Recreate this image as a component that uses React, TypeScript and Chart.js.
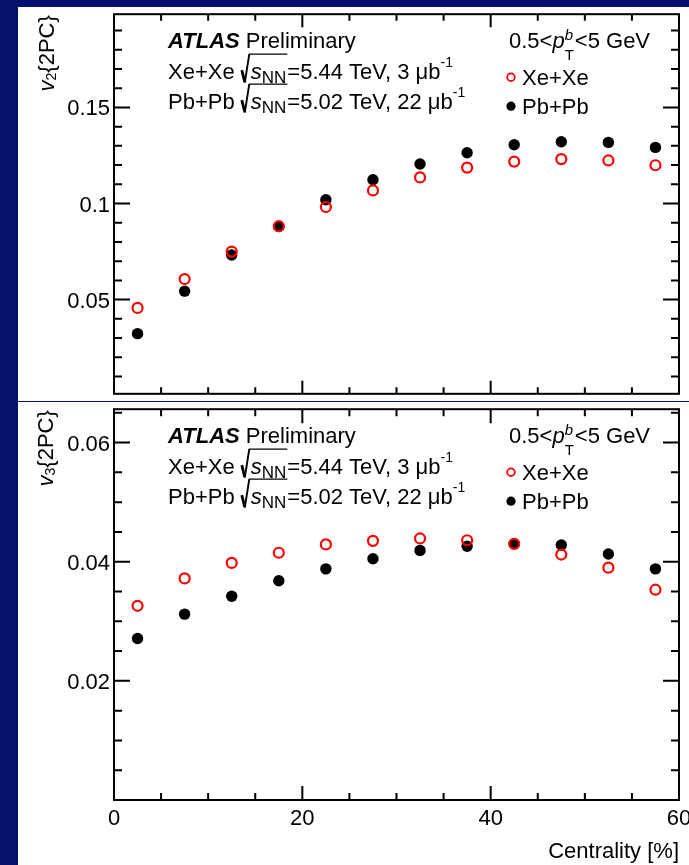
import React, { useEffect, useRef } from "react";
import { Chart, registerables } from "chart.js";
Chart.register(...registerables);

// ---------------- data ----------------
const centrality = [2.5, 7.5, 12.5, 17.5, 22.5, 27.5, 32.5, 37.5, 42.5, 47.5, 52.5, 57.5];
const v2XeXe = [0.0457, 0.0607, 0.0750, 0.0882, 0.0982, 0.1068, 0.1136, 0.1187, 0.1218, 0.1231, 0.1224, 0.1199];
const v2PbPb = [0.0323, 0.0544, 0.0732, 0.0880, 0.1020, 0.1124, 0.1206, 0.1264, 0.1306, 0.1321, 0.1318, 0.1292];
const v3XeXe = [0.0326, 0.0372, 0.0398, 0.0415, 0.0429, 0.0435, 0.0439, 0.0436, 0.0430, 0.0412, 0.0390, 0.0353];
const v3PbPb = [0.0271, 0.0312, 0.0342, 0.0368, 0.0388, 0.0405, 0.0419, 0.0426, 0.0430, 0.0428, 0.0413, 0.0388];
const xTickLabels = [0, 20, 40, 60];
const v2TickLabels = [0.05, 0.1, 0.15];
const v3TickLabels = [0.02, 0.04, 0.06];
const seriesNames = ["Xe+Xe", "Pb+Pb"];

// ---------------- style ----------------
const FONT = '"Liberation Sans", Arial, Helvetica, sans-serif';
const NAVY = "#03116c";
const RED = "#ff0000";

type Seg =
  | { k: "t"; t: string; size: number; style?: string; dy?: number }
  | { k: "sqrt"; inner: Seg[] }
  | { k: "ss"; sup: string; sub: string; size: number; supDy: number; subDy: number };

const fnt = (size: number, style = "") => `${style} ${size}px ${FONT}`.trim();

function segWidth(ctx: CanvasRenderingContext2D, s: Seg): number {
  if (s.k === "t") {
    ctx.font = fnt(s.size, s.style);
    return ctx.measureText(s.t).width;
  }
  if (s.k === "sqrt") return 10 + richWidth(ctx, s.inner) + 1;
  ctx.font = fnt(s.size, "italic");
  const a = ctx.measureText(s.sup).width;
  ctx.font = fnt(s.size);
  const b = ctx.measureText(s.sub).width;
  return Math.max(a, b) + 1;
}
function richWidth(ctx: CanvasRenderingContext2D, segs: Seg[]) {
  return segs.reduce((w, s) => w + segWidth(ctx, s), 0);
}
function drawRich(ctx: CanvasRenderingContext2D, x: number, base: number, segs: Seg[]) {
  let cx = x;
  ctx.fillStyle = "#000";
  ctx.strokeStyle = "#000";
  ctx.textBaseline = "alphabetic";
  ctx.textAlign = "left";
  for (const s of segs) {
    if (s.k === "t") {
      ctx.font = fnt(s.size, s.style);
      ctx.fillText(s.t, cx, base + (s.dy || 0));
      cx += ctx.measureText(s.t).width;
    } else if (s.k === "sqrt") {
      const iw = richWidth(ctx, s.inner);
      const top = base - 25;
      ctx.beginPath();
      ctx.lineWidth = 2.8;
      ctx.moveTo(cx + 1, base - 9);
      ctx.lineTo(cx + 4, base + 3);
      ctx.stroke();
      ctx.beginPath();
      ctx.lineWidth = 1.9;
      ctx.moveTo(cx + 4, base + 3.5);
      ctx.lineTo(cx + 8.5, top);
      ctx.stroke();
      ctx.beginPath();
      ctx.lineWidth = 1.3;
      ctx.moveTo(cx + 8, top);
      ctx.lineTo(cx + 10 + iw + 1, top);
      ctx.stroke();
      drawRich(ctx, cx + 10, base, s.inner);
      cx += 10 + iw + 1;
    } else {
      ctx.font = fnt(s.size, "italic");
      ctx.fillText(s.sup, cx, base + s.supDy);
      const a = ctx.measureText(s.sup).width;
      ctx.font = fnt(s.size);
      ctx.fillText(s.sub, cx, base + s.subDy);
      const b = ctx.measureText(s.sub).width;
      cx += Math.max(a, b) + 1;
    }
  }
  return cx;
}

const energyLine = (sys: string, e: string, lumi: string): Seg[] => [
  { k: "t", t: sys + " ", size: 22 },
  { k: "sqrt", inner: [{ k: "t", t: "s", size: 22, style: "italic" }, { k: "t", t: "NN", size: 17, dy: 4 }] },
  { k: "t", t: `=${e} TeV, ${lumi} \u03bcb`, size: 22 },
  { k: "t", t: "-1", size: 14, dy: -12 },
];

const ptLine: Seg[] = [
  { k: "t", t: "0.5<", size: 22 },
  { k: "t", t: "p", size: 22, style: "italic" },
  { k: "ss", sup: "b", sub: "T", size: 15, supDy: -8.5, subDy: 12 },
  { k: "t", t: "<5 GeV", size: 22 },
];

interface PanelCfg {
  yTicks: number[];
  yMinor: number;
  yTitleSub: string;
  yTitleBase: number;
  showXLabels: boolean;
  xMajorLen: number;
  xMinorLen: number;
}

function makePlugin(cfg: PanelCfg) {
  return {
    id: "rootStyle",
    afterDraw(chart: any) {
      const ctx: CanvasRenderingContext2D = chart.ctx;
      const xs = chart.scales.x;
      const ys = chart.scales.y;
      const { left, right, top, bottom } = chart.chartArea;
      ctx.save();
      ctx.strokeStyle = "#000";
      ctx.lineWidth = 2;
      ctx.lineCap = "butt";
      // frame
      ctx.strokeRect(left, top, right - left, bottom - top);
      // x ticks (bottom and top, inward)
      ctx.beginPath();
      for (let v = xs.min; v <= xs.max + 1e-9; v += 5) {
        const px = xs.getPixelForValue(v);
        const major = xTickLabels.includes(Math.round(v));
        const len = major ? cfg.xMajorLen : cfg.xMinorLen;
        ctx.moveTo(px, bottom);
        ctx.lineTo(px, bottom - len);
        ctx.moveTo(px, top);
        ctx.lineTo(px, top + len);
      }
      // y ticks (left and right, inward)
      const n = Math.round((ys.max - 0) / cfg.yMinor);
      for (let i = 1; i <= n; i++) {
        const v = i * cfg.yMinor;
        if (v < ys.min || v > ys.max) continue;
        const py = ys.getPixelForValue(v);
        const major = cfg.yTicks.some((t) => Math.abs(t - v) < 1e-9);
        const len = major ? 16 : 8;
        ctx.moveTo(left, py);
        ctx.lineTo(left + len, py);
        ctx.moveTo(right, py);
        ctx.lineTo(right - len, py);
      }
      ctx.stroke();
      // y tick labels
      ctx.fillStyle = "#000";
      ctx.font = fnt(22);
      ctx.textAlign = "right";
      ctx.textBaseline = "alphabetic";
      for (const t of cfg.yTicks) {
        ctx.fillText(String(t), left - 4, ys.getPixelForValue(t) + 8);
      }
      // x tick labels
      if (cfg.showXLabels) {
        ctx.textAlign = "center";
        for (const t of xTickLabels) {
          ctx.fillText(String(t), xs.getPixelForValue(t), bottom + 25);
        }
        ctx.textAlign = "right";
        ctx.fillText("Centrality [%]", right, bottom + 58);
      }
      // y title (rotated)
      const title: Seg[] = [
        { k: "t", t: "v", size: 22, style: "italic" },
        { k: "t", t: cfg.yTitleSub, size: 14, dy: 2 },
        { k: "t", t: "{2PC}", size: 22 },
      ];
      const tw = richWidth(ctx, title);
      ctx.save();
      ctx.translate(cfg.yTitleBase, top + 1);
      ctx.rotate(-Math.PI / 2);
      drawRich(ctx, -tw, 0, title);
      ctx.restore();
      // ATLAS label block
      const tx = left + 54;
      drawRich(ctx, tx, top + 34, [
        { k: "t", t: "ATLAS", size: 22, style: "italic bold" },
        { k: "t", t: " Preliminary", size: 22 },
      ]);
      drawRich(ctx, tx, top + 65, energyLine("Xe+Xe", "5.44", "3"));
      drawRich(ctx, tx, top + 95, energyLine("Pb+Pb", "5.02", "22"));
      // legend block
      const lx = left + 395;
      drawRich(ctx, lx, top + 34, ptLine);
      const my1 = top + 63;
      const my2 = top + 92;
      ctx.beginPath();
      ctx.strokeStyle = RED;
      ctx.lineWidth = 1.8;
      ctx.arc(lx + 2, my1, 3.8, 0, Math.PI * 2);
      ctx.stroke();
      ctx.beginPath();
      ctx.fillStyle = "#000";
      ctx.arc(lx + 2, my2, 4.6, 0, Math.PI * 2);
      ctx.fill();
      drawRich(ctx, lx + 13, my1 + 8, [{ k: "t", t: seriesNames[0], size: 22 }]);
      drawRich(ctx, lx + 13, my2 + 8, [{ k: "t", t: seriesNames[1], size: 22 }]);
      ctx.restore();
    },
  };
}

function makeChart(
  canvas: HTMLCanvasElement,
  xe: number[],
  pb: number[],
  yMin: number,
  yMax: number,
  xAxisH: number,
  cfg: PanelCfg
) {
  return new Chart(canvas, {
    type: "scatter",
    data: {
      datasets: [
        {
          label: seriesNames[0],
          data: centrality.map((x, i) => ({ x, y: xe[i] })),
          pointRadius: 5,
          pointBorderWidth: 2.2,
          pointBorderColor: RED,
          pointBackgroundColor: "rgba(0,0,0,0)",
          order: 0,
        },
        {
          label: seriesNames[1],
          data: centrality.map((x, i) => ({ x, y: pb[i] })),
          pointRadius: 5.7,
          pointBorderWidth: 0,
          pointBorderColor: "#000",
          pointBackgroundColor: "#000",
          order: 1,
        },
      ],
    },
    options: {
      animation: false,
      responsive: false,
      maintainAspectRatio: false,
      events: [],
      layout: { padding: { left: 0, right: 10, top: 5, bottom: 0 } },
      plugins: { legend: { display: false }, tooltip: { enabled: false } },
      scales: {
        x: {
          type: "linear",
          min: 0,
          max: 60,
          grid: { display: false },
          border: { display: false },
          ticks: { display: false, stepSize: 20 },
          afterFit: (s: any) => {
            s.height = xAxisH;
          },
        },
        y: {
          type: "linear",
          min: yMin,
          max: yMax,
          grid: { display: false },
          border: { display: false },
          ticks: { display: false },
          afterFit: (s: any) => {
            s.width = 96;
          },
        },
      },
    },
    plugins: [makePlugin(cfg)],
  } as any);
}

export default function App() {
  const topRef = useRef<HTMLCanvasElement>(null);
  const botRef = useRef<HTMLCanvasElement>(null);
  useEffect(() => {
    const c1 = makeChart(topRef.current!, v2XeXe, v2PbPb, 0.001, 0.1985, 2, {
      yTicks: v2TickLabels,
      yMinor: 0.01,
      yTitleSub: "2",
      yTitleBase: 36,
      showXLabels: false,
      xMajorLen: 13,
      xMinorLen: 6.5,
    });
    const c2 = makeChart(botRef.current!, v3XeXe, v3PbPb, 0, 0.0656, 65, {
      yTicks: v3TickLabels,
      yMinor: 0.005,
      yTitleSub: "3",
      yTitleBase: 35,
      showXLabels: true,
      xMajorLen: 14,
      xMinorLen: 7,
    });
    return () => {
      c1.destroy();
      c2.destroy();
    };
  }, []);
  return (
    <div
      style={{
        position: "fixed",
        left: 0,
        top: 0,
        width: 689,
        height: 865,
        background: NAVY,
        overflow: "hidden",
      }}
    >
      <canvas
        ref={topRef}
        width={671}
        height={394}
        style={{ position: "absolute", left: 18, top: 7, width: 671, height: 394, background: "#fff" }}
      />
      <canvas
        ref={botRef}
        width={671}
        height={463}
        style={{ position: "absolute", left: 18, top: 402, width: 671, height: 463, background: "#fff" }}
      />
    </div>
  );
}
